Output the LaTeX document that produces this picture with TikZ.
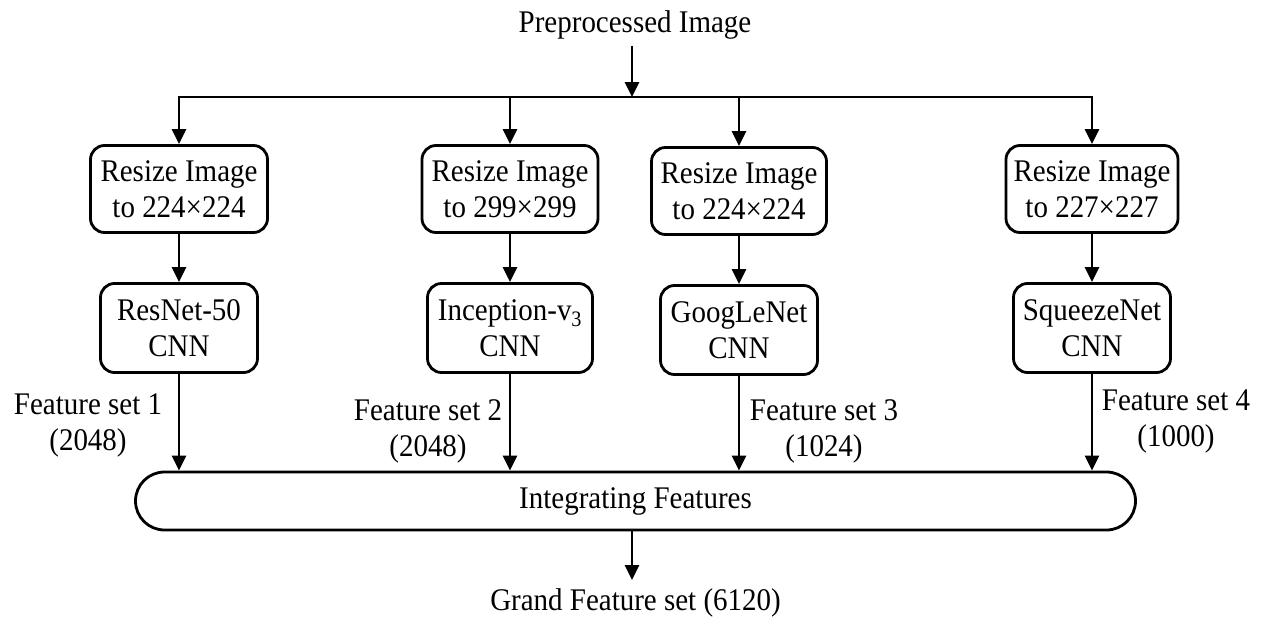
\documentclass[tikz,border=0pt]{standalone}
\usepackage{fontspec}
\setmainfont{Liberation Serif}[FakeStretch=0.92]
\usetikzlibrary{arrows.meta}
\begin{document}
\begin{tikzpicture}[x=1pt,y=-1pt,
  font=\fontsize{31.5}{36}\selectfont,
  box/.style={draw, line width=2.8pt, rounded corners=14pt, align=center, inner sep=0pt, minimum height=87pt},
  arr/.style={line width=2.8pt, -{Triangle[width=14pt,length=15pt]}},
  lbl/.style={align=center, inner sep=0pt}]
\useasboundingbox (0,0) rectangle (1261,621);
\fill[white] (0,0) rectangle (1261,621);
% top
\node[lbl] (pre) at (635,25) {Preprocessed Image};
\coordinate (hub) at (632,97);
% resize boxes
\node[box, minimum width=177pt] (r1) at (179,189) {Resize Image\\to 224×224};
\node[box, minimum width=176pt] (r2) at (510,189) {Resize Image\\to 299×299};
\node[box, minimum width=175pt] (r3) at (739,191) {Resize Image\\to 224×224};
\node[box, minimum width=172pt] (r4) at (1092,189) {Resize Image\\to 227×227};
% cnn boxes
\node[box, minimum width=157pt, minimum height=89pt] (c1) at (179,328) {ResNet-50\\CNN};
\node[box, minimum width=165pt, minimum height=89pt] (c2) at (510,328) {Inception-v\textsubscript{3}\\CNN};
\node[box, minimum width=157pt, minimum height=89pt] (c3) at (739,330) {GoogLeNet\\CNN};
\node[box, minimum width=157pt, minimum height=89pt] (c4) at (1092,328) {SqueezeNet\\CNN};
% integrating
\node[draw, line width=2.8pt, rounded corners=29pt, minimum width=1000pt, minimum height=58pt, inner sep=0pt] (int) at (635.5,501) {Integrating Features};
\node[lbl] (grand) at (635.5,603) {Grand Feature set (6120)};
\coordinate (gend) at (632,580);
% labels
\node[lbl] (f1) at (88,425) {Feature set 1\\(2048)};
\node[lbl] (f2) at (428,431) {Feature set 2\\(2048)};
\node[lbl] (f3) at (824,431) {Feature set 3\\(1024)};
\node[lbl] (f4) at (1176,421) {Feature set 4\\(1000)};
% connectors
\draw[arr] (pre.south -| hub) ++(0,6) -- (hub);
\draw[arr] (hub) -| (r1.north);
\draw[arr] (hub) -| (r4.north);
\draw[arr] (r2.north |- hub) -- (r2.north);
\draw[arr] (r3.north |- hub) -- (r3.north);
\foreach \i in {1,2,3,4}{
  \draw[arr] (r\i.south) -- (c\i.north);
  \draw[arr] (c\i.south) -- (c\i.south |- int.north);
}
\draw[arr] (int.south -| gend) -- (gend);
\end{tikzpicture}
\end{document}
